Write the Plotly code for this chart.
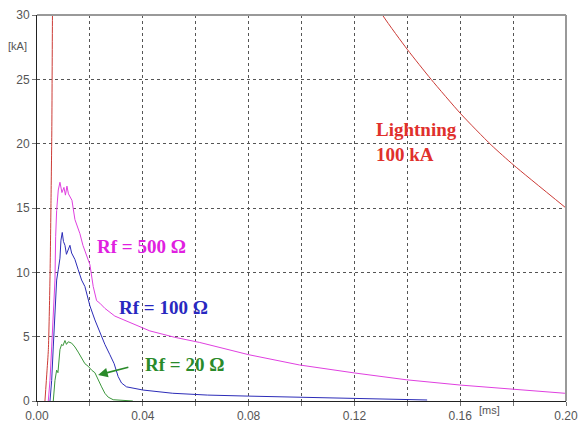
import plotly.graph_objects as go

# ---- data (time in ms, current in kA) ----
light_t = [0.0030, 0.0038, 0.0043, 0.0049, 0.0053, 0.0056, 0.00585, 0.0065, 0.0080, 0.0100,
           0.0150, 0.0300, 0.0600, 0.1000, 0.1306, 0.1401, 0.1490, 0.1603, 0.1717, 0.1804,
           0.2000]
light_i = [0.0, 2.4, 4.0, 9.4, 15.6, 21.0, 30.0, 45.0, 70.0, 90.0,
           99.0, 85.0, 60.0, 40.5, 30.0, 27.3, 25.0, 22.3, 19.9, 18.3,
           15.0]

rf500_t = [0.00426, 0.00491, 0.00555, 0.00615, 0.00679, 0.00706, 0.00743, 0.00804, 0.00868,
           0.00943, 0.01019, 0.01075, 0.01132, 0.01189, 0.01321, 0.01434, 0.01530, 0.01623,
           0.01736, 0.01887, 0.0200, 0.02125, 0.02253, 0.02377, 0.02566, 0.02943, 0.03509,
           0.04264, 0.05208, 0.06151, 0.0800, 0.09925, 0.1200, 0.1396, 0.1600, 0.1796, 0.1996]
rf500_i = [0.0, 1.6, 4.2, 6.8, 9.4, 12.8, 14.8, 16.4, 17.0,
           16.2, 16.6, 16.0, 16.7, 16.1, 15.6, 14.1, 13.6, 13.0,
           12.1, 11.2, 10.6, 8.9, 7.8, 7.6, 7.2, 6.6, 6.1,
           5.45, 4.95, 4.55, 3.6, 2.8, 2.18, 1.65, 1.24, 0.93, 0.6]

rf100_t = [0.00491, 0.00555, 0.00615, 0.00679, 0.00743, 0.00804, 0.00868, 0.00906, 0.00955,
           0.0100, 0.01057, 0.01113, 0.01181, 0.01245, 0.01309, 0.01434, 0.01558, 0.01687,
           0.01811, 0.01925, 0.0200, 0.02189, 0.02377, 0.02566, 0.02755, 0.02917, 0.03068,
           0.03196, 0.03385, 0.04011, 0.05132, 0.06453, 0.0800, 0.09925, 0.1200, 0.1475]
rf100_i = [0.0, 1.6, 4.2, 6.8, 9.4, 10.2, 11.1, 12.5, 13.1,
           12.4, 12.1, 11.4, 11.7, 12.1, 11.5, 11.0, 10.2, 9.4,
           8.9, 8.0, 7.4, 6.3, 5.3, 4.4, 3.6, 2.9, 1.9,
           1.4, 1.1, 0.85, 0.6, 0.46, 0.38, 0.28, 0.2, 0.08]

rf20_t = [0.00615, 0.00679, 0.00743, 0.00792, 0.00868, 0.00932, 0.0098, 0.01057, 0.01113,
          0.01181, 0.01309, 0.01434, 0.01558, 0.01687, 0.01811, 0.01936, 0.02064, 0.02189,
          0.02313, 0.02442, 0.02566, 0.02691, 0.02879, 0.03623]
rf20_i = [0.0, 1.6, 2.4, 2.2, 4.0, 4.4, 4.3, 4.7, 4.4,
          4.6, 4.5, 4.2, 3.8, 3.3, 2.9, 2.7, 2.4, 2.2,
          1.6, 1.1, 0.6, 0.3, 0.1, 0.0]

x_ticks = [0.0, 0.02, 0.04, 0.06, 0.08, 0.10, 0.12, 0.14, 0.16, 0.18, 0.20]
x_ticktext = ["0.00", "", "0.04", "", "0.08", "", "0.12", "", "0.16", "", "0.20"]
y_ticks = [0, 5, 10, 15, 20, 25, 30]

fig = go.Figure()
fig.add_trace(go.Scatter(x=light_t, y=light_i, mode="lines", line_shape="spline",
                         line=dict(color="#cc3b36", width=1, smoothing=0.6)))
fig.add_trace(go.Scatter(x=rf500_t, y=rf500_i, mode="lines",
                         line=dict(color="#e040e0", width=1)))
fig.add_trace(go.Scatter(x=rf100_t, y=rf100_i, mode="lines",
                         line=dict(color="#2c2cb8", width=1)))
fig.add_trace(go.Scatter(x=rf20_t, y=rf20_i, mode="lines",
                         line=dict(color="#3a963a", width=1)))

serif = "Liberation Serif, Times New Roman, serif"
ann = [
    dict(x=0.1275, y=20.1, text="<b>Lightning<br>100 kA</b>", showarrow=False,
         xanchor="left", yanchor="middle", align="left",
         font=dict(family=serif, size=19, color="#e0302c")),
    dict(x=0.0219, y=11.97, text="<b>Rf = 500 Ω</b>", showarrow=False,
         xanchor="left", yanchor="middle",
         font=dict(family=serif, size=19, color="#e020e0")),
    dict(x=0.0301, y=7.3, text="<b>Rf = 100 Ω</b>", showarrow=False,
         xanchor="left", yanchor="middle",
         font=dict(family=serif, size=19, color="#2828c0")),
    dict(x=0.0401, y=2.87, text="<b>Rf = 20 Ω</b>", showarrow=False,
         xanchor="left", yanchor="middle",
         font=dict(family=serif, size=19, color="#2a8a2a")),
    dict(x=0.0231, y=2.02, ax=0.0351, ay=2.66, axref="x", ayref="y",
         xref="x", yref="y", text="", showarrow=True, arrowhead=2,
         arrowsize=1.2, arrowwidth=1.6, arrowcolor="#2a8a2a"),
    dict(x=-0.036, y=0.92, xref="paper", yref="paper", text="[kA]", showarrow=False,
         xanchor="center", yanchor="middle",
         font=dict(family="Liberation Sans, Arial", size=11, color="#555")),
    dict(x=0.856, y=-0.024, xref="paper", yref="paper", text="[ms]", showarrow=False,
         xanchor="center", yanchor="middle",
         font=dict(family="Liberation Sans, Arial", size=11, color="#555")),
]

fig.update_layout(
    width=582, height=423,
    margin=dict(l=37, r=16, t=15, b=22, autoexpand=False),
    paper_bgcolor="white", plot_bgcolor="white",
    showlegend=False,
    annotations=ann,
    font=dict(family="Liberation Sans, Arial", size=12, color="#555"),
    shapes=[
        dict(type="line", xref="paper", yref="paper", x0=0, x1=1, y0=1, y1=1,
             line=dict(color="#999", width=2)),
        dict(type="line", xref="paper", yref="paper", x0=1, x1=1, y0=0, y1=1,
             line=dict(color="#999", width=2)),
    ],
)
fig.update_xaxes(range=[0, 0.2], tickvals=x_ticks, ticktext=x_ticktext,
                 showgrid=True, gridcolor="#555", griddash="dot", gridwidth=1,
                 showline=True, linecolor="#222", linewidth=1, automargin=False,
                 ticks="outside", ticklen=4, tickcolor="#777", zeroline=False,
                 tickfont=dict(size=12, color="#555"))
fig.update_yaxes(range=[0, 30], tickvals=y_ticks, automargin=False,
                 showgrid=True, gridcolor="#555", griddash="dot", gridwidth=1,
                 showline=True, linecolor="#222", linewidth=1,
                 ticks="outside", ticklen=4, tickcolor="#777", zeroline=False,
                 tickfont=dict(size=12, color="#555"))

fig.write_html("out.html")
